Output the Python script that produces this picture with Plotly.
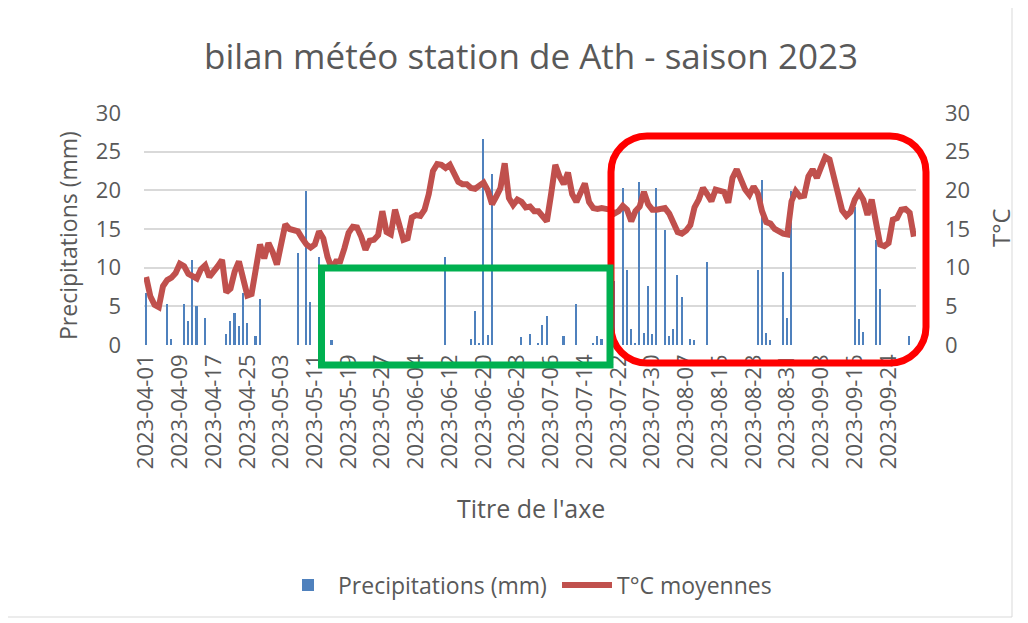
import datetime as dt
import plotly.graph_objects as go

# ---------------- data ----------------
start = dt.date(2023, 4, 1)
dates = [(start + dt.timedelta(days=i)).isoformat() for i in range(183)]

temperature = [
    8.8, 6.3, 5.2, 4.9, 7.6, 8.4, 8.7, 9.3, 10.5, 10.2,
    9.2, 8.9, 8.6, 9.8, 10.3, 8.8, 9.4, 10.2, 11.0, 6.8,
    7.3, 9.5, 10.8, 8.2, 6.4, 6.6, 10.0, 13.0, 11.2, 13.2,
    12.0, 10.4, 13.0, 15.6, 15.0, 14.9, 14.7, 13.8, 13.0, 12.6,
    13.0, 14.7, 13.8, 11.4, 9.9, 10.8, 10.8, 12.5, 14.5, 15.3,
    15.2, 14.0, 12.3, 13.5, 13.6, 14.2, 17.3, 14.6, 14.3, 17.5,
    15.2, 13.6, 13.8, 16.5, 16.8, 16.7, 17.5, 19.5, 22.5, 23.4,
    23.3, 22.9, 23.3, 22.3, 21.1, 20.8, 20.8, 20.3, 20.2, 20.6,
    21.0, 20.0, 18.2, 19.2, 20.3, 23.5, 19.0, 18.1, 18.8, 18.5,
    17.8, 17.9, 17.3, 17.3, 16.5, 16.0, 19.5, 23.3, 21.8, 20.8,
    22.3, 19.5, 18.5, 19.7, 20.9, 18.5, 17.7, 17.6, 17.7, 17.6,
    17.5, 17.0, 17.3, 18.0, 17.5, 16.0, 17.3, 17.9, 19.8, 18.2,
    17.5, 17.5, 17.6, 17.7, 17.0, 15.8, 14.6, 14.4, 14.8, 15.5,
    17.8, 18.8, 20.3, 19.5, 18.6, 20.1, 19.9, 19.8, 18.4, 21.6,
    22.7, 21.2, 20.1, 19.4, 20.5, 19.6, 17.3, 15.9, 15.7, 15.0,
    14.6, 14.4, 14.3, 18.6, 19.9, 19.2, 19.3, 21.8, 22.7, 21.6,
    23.0, 24.3, 24.0, 21.5, 19.0, 17.4, 16.7, 17.2, 18.8, 19.7,
    18.8, 16.8, 18.8, 15.5, 13.0, 12.8, 13.2, 16.2, 16.4, 17.5,
    17.6, 17.1, 14.0,
]

rain_days = [0, 5, 6, 9, 10, 11, 12, 14, 19, 20, 21, 22, 23, 24, 26, 27,
             36, 38, 39, 41, 44, 71, 77, 78, 79, 80, 81, 82, 89, 91, 93, 94,
             95, 99, 102, 106, 107, 108, 111, 113, 114, 115, 116, 117, 118, 119,
             120, 121, 123, 124, 125, 126, 127, 129, 130, 133, 145, 146, 147, 148,
             151, 152, 153, 168, 169, 170, 173, 174, 181]
rain_mm = [6.7, 5.3, 0.8, 5.3, 3.1, 11.0, 5.0, 3.5, 1.4, 3.1, 4.2, 2.4, 6.7, 2.8, 1.2, 6.0,
           11.9, 19.9, 5.5, 11.4, 0.6, 11.4, 0.8, 4.4, 0.2, 26.6, 1.3, 22.1, 1.0, 1.4, 0.2, 2.6,
           3.8, 1.2, 5.3, 0.2, 1.2, 0.8, 8.3, 20.3, 9.7, 2.1, 0.2, 21.1, 1.5, 7.6,
           1.4, 20.3, 14.9, 1.2, 2.1, 9.1, 6.2, 0.8, 0.6, 10.7, 9.7, 21.4, 1.5, 0.6,
           9.4, 3.5, 19.9, 17.8, 3.3, 1.7, 13.6, 7.3, 1.2]

precip = [0.0] * len(dates)
for d, v in zip(rain_days, rain_mm):
    precip[d] = v

tick_dates = dates[::8]
y_ticks = [0, 5, 10, 15, 20, 25, 30]

# ---------------- layout geometry (page pixels; page body has an 8px margin) ----------------
OFF = 8
W, H = 1028 - OFF, 623 - OFF
L, R, T, B = 144 - OFF, 916 - OFF, 113 - OFF, 345 - OFF


def px(x):
    return (x - OFF - L) / (R - L)


def py(y):
    return (B - (y - OFF)) / (B - T)


def rounded_rect(x0, y0, x1, y1, r):
    k = 0.5523 * r
    segs = [
        f"M {px(x0 + r):.5f},{py(y0):.5f}",
        f"L {px(x1 - r):.5f},{py(y0):.5f}",
        f"C {px(x1 - r + k):.5f},{py(y0):.5f} {px(x1):.5f},{py(y0 + r - k):.5f} {px(x1):.5f},{py(y0 + r):.5f}",
        f"L {px(x1):.5f},{py(y1 - r):.5f}",
        f"C {px(x1):.5f},{py(y1 - r + k):.5f} {px(x1 - r + k):.5f},{py(y1):.5f} {px(x1 - r):.5f},{py(y1):.5f}",
        f"L {px(x0 + r):.5f},{py(y1):.5f}",
        f"C {px(x0 + r - k):.5f},{py(y1):.5f} {px(x0):.5f},{py(y1 - r + k):.5f} {px(x0):.5f},{py(y1 - r):.5f}",
        f"L {px(x0):.5f},{py(y0 + r):.5f}",
        f"C {px(x0):.5f},{py(y0 + r - k):.5f} {px(x0 + r - k):.5f},{py(y0):.5f} {px(x0 + r):.5f},{py(y0):.5f}",
        "Z",
    ]
    return " ".join(segs)


FONT = "Open Sans"
GREY = "#595959"

fig = go.Figure()
fig.add_trace(go.Bar(
    x=dates, y=precip, name="Precipitations (mm)",
    marker=dict(color="#4F81BD", line=dict(width=0)), width=0.38,
))
fig.add_trace(go.Scatter(
    x=dates, y=temperature, name="T°C moyennes", yaxis="y2",
    mode="lines", line=dict(color="#C0504D", width=6),
))

fig.update_layout(
    width=W, height=H,
    margin=dict(l=L, r=W - R, t=T, b=H - B),
    paper_bgcolor="white", plot_bgcolor="white",
    font=dict(family=FONT, color=GREY),
    showlegend=True,
    bargap=0,
    title=dict(text="bilan météo station de Ath - saison 2023", x=px(531), xref="paper",
               xanchor="center", y=1 - (57 - OFF) / H, yanchor="middle",
               font=dict(size=35, color=GREY, family=FONT)),
    xaxis=dict(type="category", range=[-0.5, len(dates) - 0.5],
               tickmode="array", tickvals=tick_dates, ticktext=tick_dates,
               tickangle=-90, tickfont=dict(size=22, color=GREY), ticklabelstandoff=4,
               showgrid=False, showline=False, ticks="", zeroline=False),
    yaxis=dict(range=[0, 30], tickvals=y_ticks, showgrid=True, gridcolor="#D9D9D9",
               gridwidth=1.5, zeroline=False, showline=False, ticks="",
               tickfont=dict(size=22, color=GREY), ticklabelstandoff=22),
    yaxis2=dict(range=[0, 30], tickvals=y_ticks, overlaying="y", side="right",
                showgrid=False, zeroline=False, showline=False, ticks="",
                tickfont=dict(size=22, color=GREY), ticklabelstandoff=28),
    legend=dict(orientation="h", x=px(278), xanchor="left", y=py(585), yanchor="middle",
                font=dict(size=23, color=GREY), itemwidth=50, entrywidth=214),
    annotations=[
        dict(text="Precipitations (mm)", x=px(68), y=py(236), xref="paper", yref="paper",
             xanchor="center", yanchor="middle",
             textangle=-90, showarrow=False, font=dict(size=23, color=GREY)),
        dict(text="T°C", x=px(1000), y=py(228), xref="paper", yref="paper",
             xanchor="center", yanchor="middle",
             textangle=-90, showarrow=False, font=dict(size=24, color=GREY)),
        dict(text="Titre de l'axe", x=px(531), y=py(508), xref="paper", yref="paper",
             xanchor="center", yanchor="middle",
             showarrow=False, font=dict(size=25, color=GREY)),
    ],
    shapes=[
        dict(type="rect", xref="paper", yref="paper", x0=px(1), x1=px(1012), y0=py(5), y1=py(617),
             line=dict(color="#D9D9D9", width=1), layer="below"),
        dict(type="path", xref="paper", yref="paper", path=rounded_rect(611, 136, 926, 363, 36),
             line=dict(color="#FF0000", width=7)),
        dict(type="rect", xref="paper", yref="paper", x0=px(321.5), x1=px(610), y0=py(268), y1=py(365),
             line=dict(color="#00B050", width=7)),
    ],
)

fig.write_html("out.html")
